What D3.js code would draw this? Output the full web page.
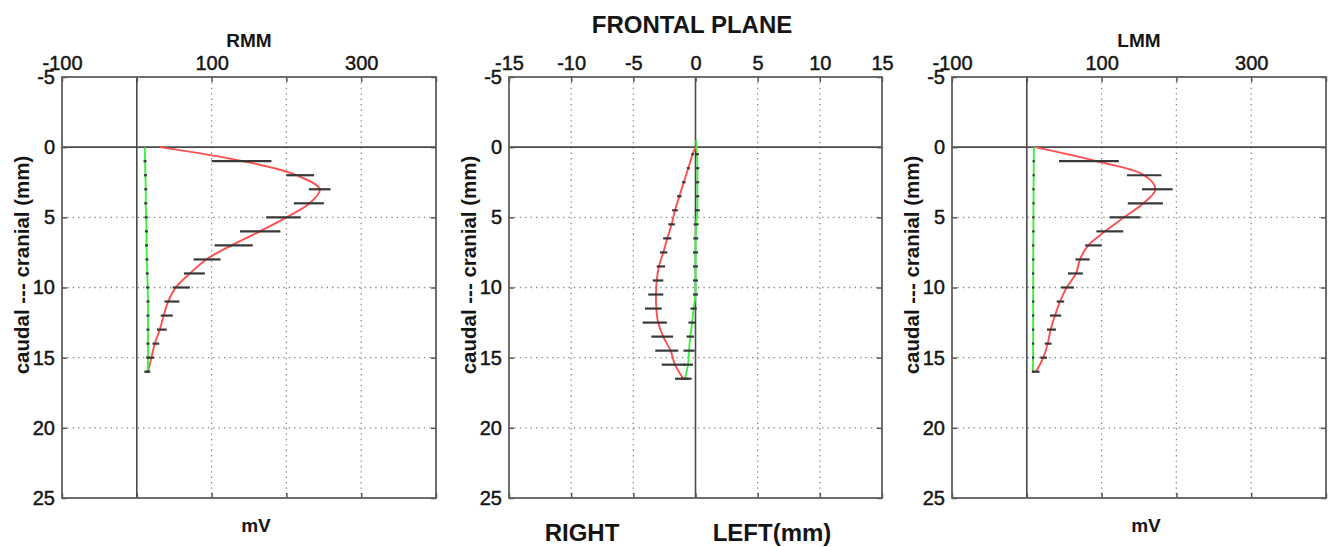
<!DOCTYPE html>
<html><head><meta charset="utf-8">
<script src="https://cdn.jsdelivr.net/npm/d3@7"></script>
<style>
body{margin:0;background:#fff}
svg{display:block}
text{font-family:"Liberation Sans",Arial,Helvetica,sans-serif;fill:#151515}
</style>
</head><body>
<svg id="c" width="1328" height="547"></svg>
<script>
// ---------- DATA ----------
const depthAxisTicks = [-5, 0, 5, 10, 15, 20, 25];
const mvTicks = [-100, 0, 100, 200, 300, 400];
const mvTickLabels = ["-100", "", "100", "", "300", ""];
const mmTicks = [-15, -10, -5, 0, 5, 10, 15];
const mmTickLabels = ["-15", "-10", "-5", "0", "5", "10", "15"];

// RMM / LMM depth samples (mm)
const depthInt = [0,1,2,3,4,5,6,7,8,9,10,11,12,13,14,15,16];

// RMM (mV)
const rmmRed   = [30.7,142,213.5,244.6,231,200,164.4,126.6,93,70.9,52.1,41.9,36,30.7,24,19.6,15];
const rmmRedLo = [null,100,200,230,210,173,138,104,76,63,48,37,32,27,21,13,10];
const rmmRedHi = [null,180,237,259,250,219,192,155,112,91,71,57,48,40,30,23,18];
const rmmGreen    = [10.7,11,11.5,12,12,12.5,13,13,13.5,14,14.5,15,15,15,15,15,14.5];
const rmmGreenErr = [0,2,2,2,2,2,2,2,2,2,2,2,2,2,2,2,2];

// LMM (mV)
const lmmRed   = [11,93.4,157,172,156,130,104.5,82.2,71.1,65.8,53.3,44.4,37.7,31.9,27.9,22,12.3];
const lmmRedLo = [null,43,134,154,135,111,93,78,65,55,46,40,31,27,24,18,8];
const lmmRedHi = [null,123,180,195,182,152,129,100,84,75,63,50,46,39,33,27,17];
const lmmGreen    = [9.5,9.3,9.2,9,9,8.8,8.8,8.6,8.6,8.5,8.5,8.5,8.5,8.5,8.4,8.4,8.2];
const lmmGreenErr = [0,1.5,1.5,1.5,1.5,1.5,1.5,1.5,1.5,1.5,1.5,1.5,1.5,1.5,1.5,1.5,1.5];

// Frontal plane (mm)
const frontalRedDepth = [0,0.5,1.5,2.5,3.5,4.5,5.5,6.5,7.5,8.5,9.5,10.5,11.5,12.5,13.5,14.5,15.5,16.5];
const frontalRed   = [0,-0.23,-0.58,-0.94,-1.3,-1.65,-1.92,-2.27,-2.59,-2.94,-3.12,-3.18,-3.15,-3.0,-2.6,-2.0,-1.65,-0.98];
const frontalRedLo = [null,-0.33,-0.7,-1.08,-1.48,-1.88,-2.18,-2.6,-2.86,-3.12,-3.44,-3.8,-4.06,-4.25,-3.55,-3.23,-2.72,-1.65];
const frontalRedHi = [null,-0.13,-0.46,-0.8,-1.12,-1.42,-1.66,-1.94,-2.27,-2.45,-2.59,-2.59,-2.72,-2.3,-1.8,-1.38,-0.84,-0.31];
const frontalGreenDepth = [-0.5,0.5,1.5,2.5,3.5,4.5,5.5,6.5,7.5,8.5,9.5,10.5,11.5,12.5,13.5,14.5,15.5,16.5];
const frontalGreen    = [0.05,0.12,0.15,0.15,0.15,0.15,0.05,0.02,0,0,0,0,-0.15,-0.27,-0.42,-0.52,-0.6,-0.85];
const frontalGreenErr = [0,0.15,0.15,0.15,0.15,0.2,0.2,0.2,0.2,0.2,0.2,0.2,0.25,0.3,0.3,0.45,0.4,0.3];

// ---------- DRAW ----------
const svg = d3.select("#c");
const TOP = 77, BOTTOM = 498;
const RED = "#ff4f4f", GREEN = "#3ff03f", BAR = "#383838";

function drawPanel(cfg) {
  const x = d3.scaleLinear().domain(cfg.xDomain).range([cfg.left, cfg.right]);
  const y = d3.scaleLinear().domain([-5, 25]).range([TOP, BOTTOM]);
  const g = svg.append("g");
  const xInner = cfg.xTicks.filter(v => v !== 0 && v > cfg.xDomain[0] && v < cfg.xDomain[1]);
  const yInner = depthAxisTicks.filter(v => v !== 0 && v > -5 && v < 25);

  // grid (dotted)
  g.append("g").selectAll("line").data(xInner).join("line")
    .attr("x1", d => x(d)).attr("x2", d => x(d)).attr("y1", TOP).attr("y2", BOTTOM)
    .attr("stroke", "#8a8a8a").attr("stroke-width", 1.3).attr("stroke-dasharray", "1.4,4");
  g.append("g").selectAll("line").data(yInner).join("line")
    .attr("y1", d => y(d)).attr("y2", d => y(d)).attr("x1", cfg.left).attr("x2", cfg.right)
    .attr("stroke", "#8a8a8a").attr("stroke-width", 1.3).attr("stroke-dasharray", "1.4,4");

  // zero lines
  g.append("line").attr("x1", x(0)).attr("x2", x(0)).attr("y1", TOP).attr("y2", BOTTOM)
    .attr("stroke", "#4a4a4a").attr("stroke-width", 1.6);
  g.append("line").attr("x1", cfg.left).attr("x2", cfg.right).attr("y1", y(0)).attr("y2", y(0))
    .attr("stroke", "#4a4a4a").attr("stroke-width", 1.6);

  // axes (inward ticks)
  const styleAxis = sel => {
    sel.select(".domain").remove();
    sel.selectAll(".tick line").attr("stroke", "#555").attr("stroke-width", 1.5);
    sel.selectAll(".tick text").attr("font-size", 20).attr("fill", "#151515")
      .attr("stroke", "#151515").attr("stroke-width", 0.45)
      .style("font-family", '"Liberation Sans",Arial,sans-serif');
  };
  g.append("g").attr("transform", `translate(0,${TOP})`)
    .call(d3.axisTop(x).tickValues(cfg.xTicks).tickFormat((d, i) => cfg.xLabels[i])
      .tickSizeInner(-5).tickSizeOuter(0).tickPadding(7))
    .call(styleAxis);
  g.append("g").attr("transform", `translate(0,${BOTTOM})`)
    .call(d3.axisBottom(x).tickValues(cfg.xTicks).tickFormat("").tickSizeInner(-5).tickSizeOuter(0))
    .call(styleAxis);
  g.append("g").attr("transform", `translate(${cfg.left},0)`)
    .call(d3.axisLeft(y).tickValues(depthAxisTicks).tickFormat(d => String(d))
      .tickSizeInner(-5).tickSizeOuter(0).tickPadding(7))
    .call(styleAxis);
  g.append("g").attr("transform", `translate(${cfg.right},0)`)
    .call(d3.axisRight(y).tickValues(depthAxisTicks).tickFormat("").tickSizeInner(-5).tickSizeOuter(0))
    .call(styleAxis);

  // box
  g.append("rect").attr("x", cfg.left).attr("y", TOP)
    .attr("width", cfg.right - cfg.left).attr("height", BOTTOM - TOP)
    .attr("fill", "none").attr("stroke", "#606060").attr("stroke-width", 1.8);

  // data lines
  const line = d3.line().defined(d => d[0] != null)
    .x(d => x(d[0])).y(d => y(d[1])).curve(d3.curveCatmullRom.alpha(0.5));
  const redPts = cfg.red.map((v, i) => [v, cfg.redDepth[i]]);
  const greenPts = cfg.green.map((v, i) => [v, cfg.greenDepth[i]]);
  g.append("path").datum(redPts).attr("d", line).attr("fill", "none")
    .attr("stroke", RED).attr("stroke-width", 1.9);
  g.append("path").datum(greenPts).attr("d", line).attr("fill", "none")
    .attr("stroke", GREEN).attr("stroke-width", 1.9);

  // error bars
  const redBars = cfg.redLo.map((lo, i) => ({lo, hi: cfg.redHi[i], d: cfg.redDepth[i]})).filter(b => b.lo != null);
  g.append("g").selectAll("line").data(redBars).join("line")
    .attr("x1", b => x(b.lo)).attr("x2", b => x(b.hi)).attr("y1", b => y(b.d)).attr("y2", b => y(b.d))
    .attr("stroke", BAR).attr("stroke-width", 2.2);
  const greenBars = cfg.greenErr.map((e, i) => ({lo: cfg.green[i] - e, hi: cfg.green[i] + e, d: cfg.greenDepth[i], e}))
    .filter(b => b.e > 0);
  g.append("g").selectAll("line").data(greenBars).join("line")
    .attr("x1", b => x(b.lo)).attr("x2", b => x(b.hi)).attr("y1", b => y(b.d)).attr("y2", b => y(b.d))
    .attr("stroke", BAR).attr("stroke-width", 2.2);

  // y label
  const yc = 265;
  g.append("text").attr("transform", `translate(${cfg.left - 40},${yc}) rotate(-90)`)
    .attr("dy", "0.36em").attr("text-anchor", "middle")
    .attr("font-size", 20.5).attr("font-weight", "bold").text("caudal --- cranial (mm)");

  // title
  if (cfg.title) {
    g.append("text").attr("x", (cfg.left + cfg.right) / 2).attr("y", 47)
      .attr("text-anchor", "middle").attr("font-size", 19).attr("font-weight", "bold").text(cfg.title);
  }
  if (cfg.bottomLabel) {
    g.append("text").attr("x", (cfg.left + cfg.right) / 2 + 7).attr("y", 532)
      .attr("text-anchor", "middle").attr("font-size", 19).attr("font-weight", "bold").text(cfg.bottomLabel);
  }
  return {x, y, g};
}

drawPanel({left: 62, right: 436, xDomain: [-100, 400], xTicks: mvTicks, xLabels: mvTickLabels,
  title: "RMM", bottomLabel: "mV",
  red: rmmRed, redLo: rmmRedLo, redHi: rmmRedHi, redDepth: depthInt,
  green: rmmGreen, greenErr: rmmGreenErr, greenDepth: depthInt});

drawPanel({left: 509, right: 882, xDomain: [-15, 15], xTicks: mmTicks, xLabels: mmTickLabels,
  title: null, bottomLabel: null,
  red: frontalRed, redLo: frontalRedLo, redHi: frontalRedHi, redDepth: frontalRedDepth,
  green: frontalGreen, greenErr: frontalGreenErr, greenDepth: frontalGreenDepth});

drawPanel({left: 952, right: 1326, xDomain: [-100, 400], xTicks: mvTicks, xLabels: mvTickLabels,
  title: "LMM", bottomLabel: "mV",
  red: lmmRed, redLo: lmmRedLo, redHi: lmmRedHi, redDepth: depthInt,
  green: lmmGreen, greenErr: lmmGreenErr, greenDepth: depthInt});

// frontal plane titles
svg.append("text").attr("x", 692).attr("y", 33).attr("text-anchor", "middle")
  .attr("font-size", 24).attr("font-weight", "bold").text("FRONTAL PLANE");
svg.append("text").attr("x", 582).attr("y", 541).attr("text-anchor", "middle")
  .attr("font-size", 24).attr("font-weight", "bold").text("RIGHT");
svg.append("text").attr("x", 772).attr("y", 541).attr("text-anchor", "middle")
  .attr("font-size", 24).attr("font-weight", "bold").text("LEFT(mm)");
</script>
</body></html>
